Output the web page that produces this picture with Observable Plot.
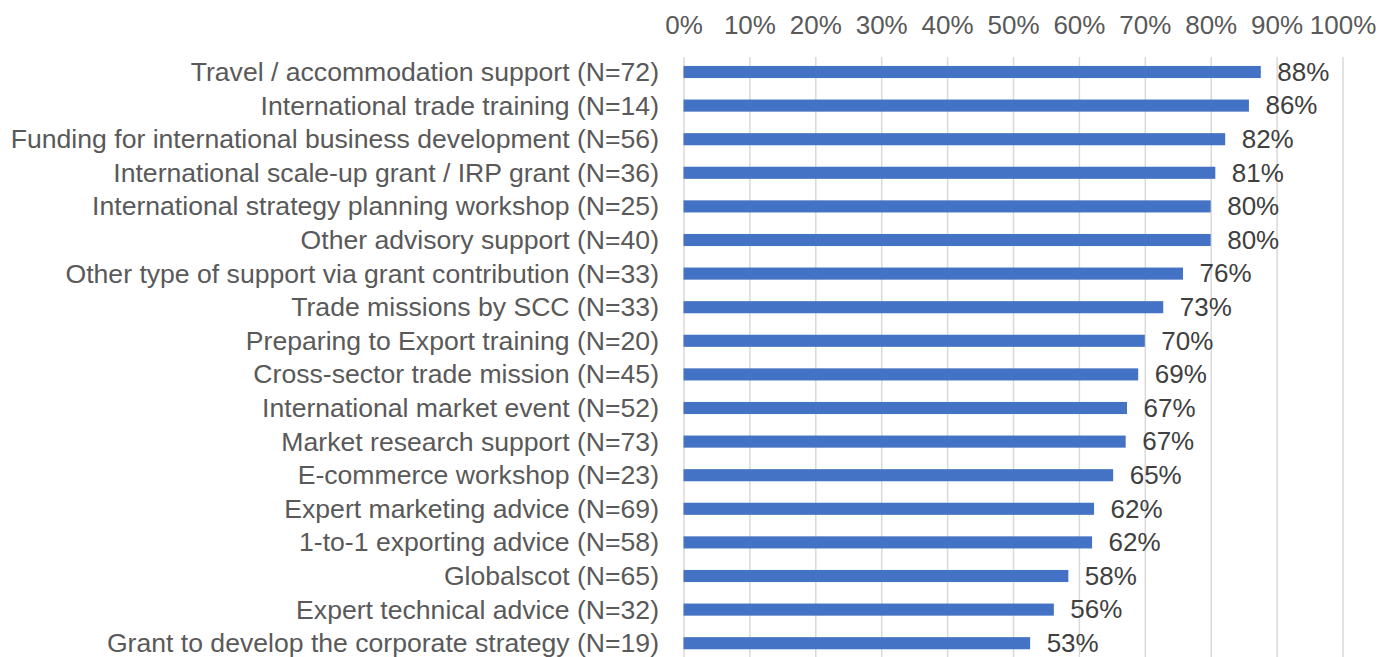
<!DOCTYPE html>
<html>
<head>
<meta charset="utf-8">
<script src="https://cdn.jsdelivr.net/npm/d3@7"></script>
<script src="https://cdn.jsdelivr.net/npm/@observablehq/plot@0.6"></script>
<style>
  html, body { margin: 0; padding: 0; background: #fff; }
  #chart svg { display: block; }
</style>
</head>
<body>
<div id="chart"></div>
<script>
const categories = [
  "Travel / accommodation support (N=72)",
  "International trade training (N=14)",
  "Funding for international business development (N=56)",
  "International scale-up grant / IRP grant (N=36)",
  "International strategy planning workshop (N=25)",
  "Other advisory support (N=40)",
  "Other type of support via grant contribution (N=33)",
  "Trade missions by SCC (N=33)",
  "Preparing to Export training (N=20)",
  "Cross-sector trade mission (N=45)",
  "International market event (N=52)",
  "Market research support (N=73)",
  "E-commerce workshop (N=23)",
  "Expert marketing advice (N=69)",
  "1-to-1 exporting advice (N=58)",
  "Globalscot (N=65)",
  "Expert technical advice (N=32)",
  "Grant to develop the corporate strategy (N=19)"
];
const values = [87.6, 85.8, 82.2, 80.7, 80.0, 80.0, 75.8, 72.8, 70.0, 69.0, 67.3, 67.1, 65.2, 62.3, 62.0, 58.4, 56.2, 52.6];
const xTicks = [0, 10, 20, 30, 40, 50, 60, 70, 80, 90, 100];

const data = categories.map((c, i) => ({category: c, value: values[i]}));

const chart = Plot.plot({
  width: 1394,
  height: 657,
  marginTop: 57,
  marginBottom: 0,
  marginLeft: 683.5,
  marginRight: 51.5,
  style: {fontFamily: "'Liberation Sans', Arial, sans-serif", fontSize: "26px", background: "#fff"},
  x: {domain: [0, 100], ticks: xTicks, tickFormat: d => d + "%"},
  y: {domain: categories, range: [55.2, 660], paddingInner: 0.64, paddingOuter: 0.32, round: false},
  marks: [
    Plot.gridX(xTicks, {stroke: "#d9d9d9", strokeOpacity: 1, strokeWidth: 1.5}),
    Plot.barX(data, {x: "value", y: "category", fill: "#4472C4"}),
    Plot.text(data, {x: "value", y: "category", text: d => Math.round(d.value) + "%", textAnchor: "start", dx: 16, fill: "#404040", fontSize: 26}),
    Plot.axisX(xTicks, {anchor: "top", tickSize: 0, tickPadding: 24, tickFormat: d => d + "%", fill: "#595959", fontSize: 26, label: null}),
    Plot.axisY({anchor: "left", tickSize: 0, tickPadding: 25, fill: "#595959", fontSize: 26.6, label: null})
  ]
});
document.getElementById("chart").appendChild(chart);
</script>
</body>
</html>
